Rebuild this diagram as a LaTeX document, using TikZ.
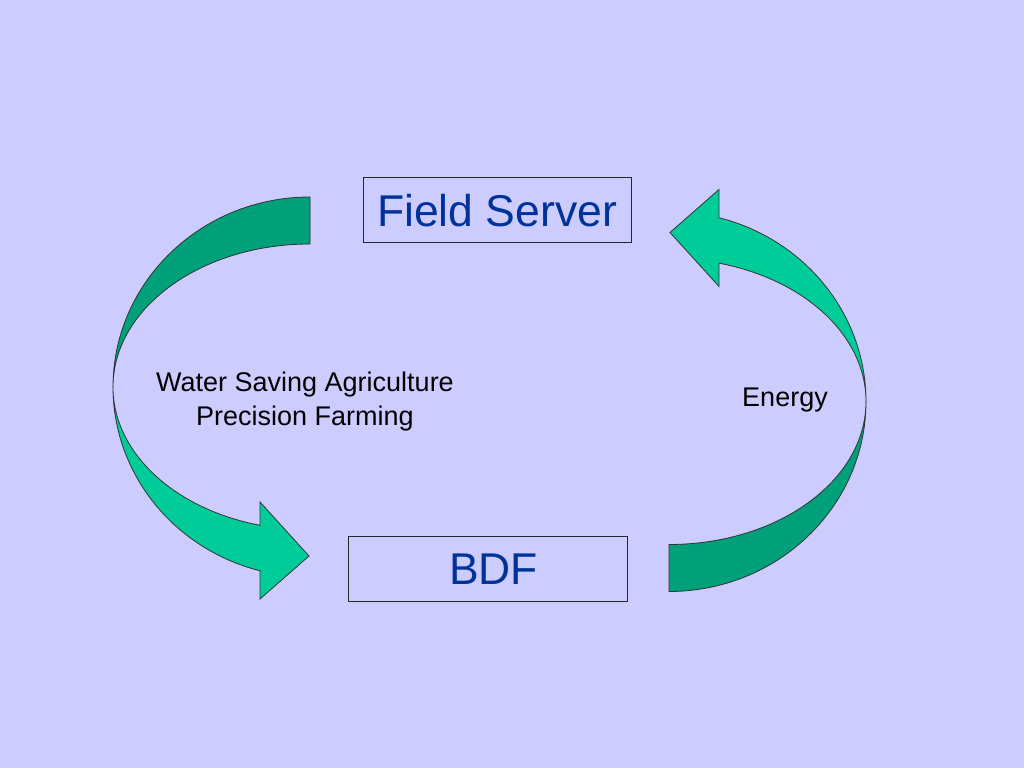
\documentclass[tikz,border=0pt]{standalone}
\usepackage{fontspec}
\setmainfont{Liberation Sans}
\usepackage{tikz}
\usetikzlibrary{positioning}

\definecolor{slidebg}{HTML}{CCCCFF}
\definecolor{bandback}{HTML}{00A07A}
\definecolor{bandfront}{HTML}{00CC99}
\definecolor{boxtext}{HTML}{003399}

\tikzset{
  unitbox/.style={draw=black!85, line width=1pt, text=boxtext, minimum height=65pt,
    font=\fontsize{44.5}{52}\selectfont},
  caption/.style={align=center, font=\fontsize{27}{34}\selectfont},
  ribbon/.style={draw=black!80, line width=0.8pt, line join=miter},
  pics/bentarrow/.style={code={
    % back of the ribbon
    \path[ribbon, fill=bandback] (310,571) arc[start angle=90, end angle=180, x radius=197, y radius=190]
      arc[start angle=180, end angle=90, x radius=197, y radius=143] -- cycle;
    % front of the ribbon with its head
    \path[ribbon, fill=bandfront] (113,381) arc[start angle=180, end angle=255.3, x radius=197, y radius=190]
      -- (260,169) -- (309,212) -- (260,266) -- (260,242.7)
      arc[start angle=255.3, end angle=180, x radius=197, y radius=143] -- cycle;
  }}
}

\begin{document}
\begin{tikzpicture}[x=1pt, y=1pt]
  \fill[slidebg] (0,0) rectangle (1024,768);
  \useasboundingbox (0,0) rectangle (1024,768);

  \node[unitbox, minimum width=268pt] (fs) at (497,557.5) {Field Server};
  \node[unitbox, minimum width=279pt] (bdf) at (487.5,198.5) {\hspace*{12pt}BDF};

  \pic {bentarrow};
  \pic[rotate around={180:(489.5,373.75)}] {bentarrow};

  \node[caption] (uses) at (305,366) {Water Saving Agriculture\\Precision Farming};
  \node[caption] (energy) at (785,368) {Energy};
\end{tikzpicture}
\end{document}
